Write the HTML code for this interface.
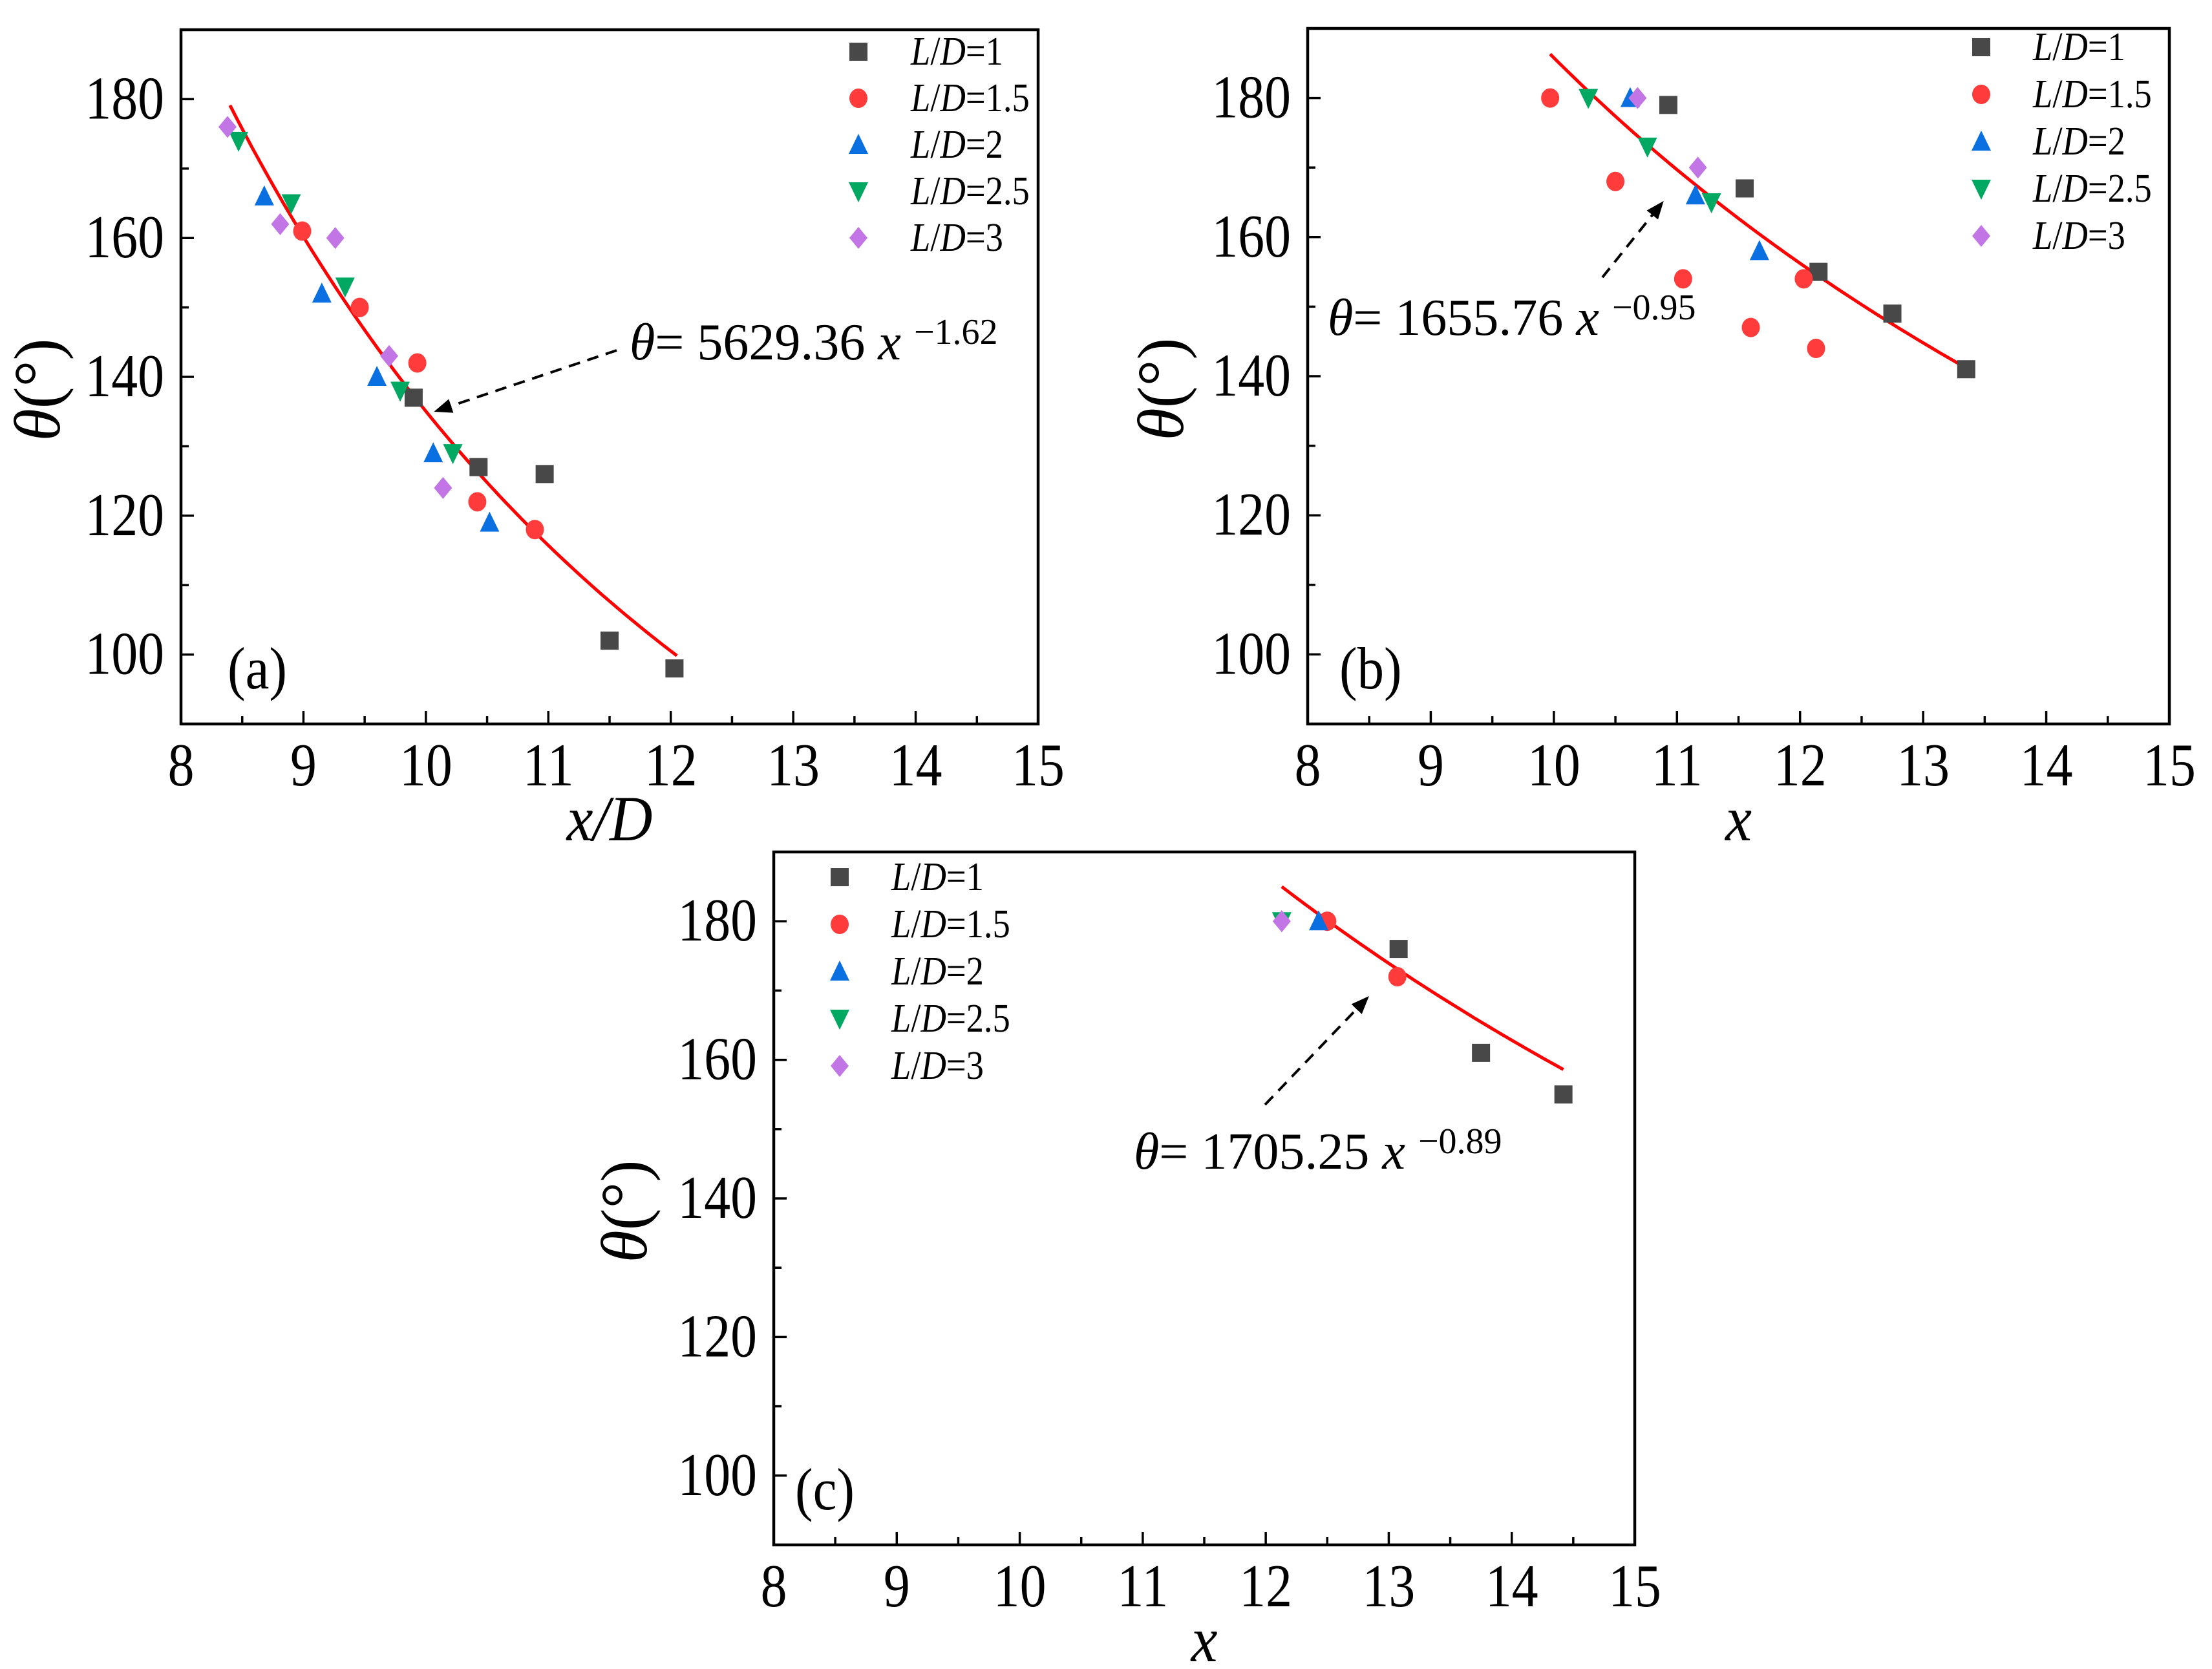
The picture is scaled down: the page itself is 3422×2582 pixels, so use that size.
<!DOCTYPE html>
<html><head><meta charset="utf-8"><style>
html,body{margin:0;padding:0;background:#fff}
svg{display:block;font-family:"Liberation Serif",serif}
</style></head><body>
<svg id="fig" width="3422" height="2582" viewBox="0 0 3422 2582" xmlns="http://www.w3.org/2000/svg">
<defs><marker id="arr" viewBox="0 0 10 10" refX="9" refY="5" markerWidth="7" markerHeight="7" orient="auto"><path d="M0,1 L10,5 L0,9 z" fill="#000"/></marker></defs>
</svg>
<script>
const seriesNames = ["L/D=1","L/D=1.5","L/D=2","L/D=2.5","L/D=3"];
const xTicks = [8,9,10,11,12,13,14,15];
const yTicks = [100,120,140,160,180];
// Panel (a)
const aX1=[9.9,10.43,10.97,11.5,12.03], aY1=[137,127,126,102,98];
const aX15=[8.99,9.46,9.93,10.42,10.89], aY15=[161,150,142,122,118];
const aX2=[8.68,9.15,9.6,10.06,10.52], aY2=[166,152,140,129,119];
const aX25=[8.47,8.9,9.34,9.79,10.22], aY25=[174,165,153,138,129];
const aX3=[8.38,8.81,9.26,9.7,10.14], aY3=[176,162,160,143,124];
const aFit=[5629.36,-1.62,8.4,12.05];
// Panel (b)
const bX1=[10.93,11.55,12.15,12.75,13.35], bY1=[179,167,155,149,141];
const bX15=[9.97,10.5,11.05,11.6,12.03,12.13], bY15=[180,168,154,147,154,144];
const bX2=[10.62,11.15,11.67], bY2=[180,166,158];
const bX25=[10.28,10.76,11.28], bY25=[180,173,165];
const bX3=[10.68,11.17], bY3=[180,170];
const bFit=[1655.76,-0.95,9.97,13.37];
// Panel (c)
const cX1=[13.08,13.75,14.42], cY1=[176,161,155];
const cX15=[12.5,13.07], cY15=[180,172];
const cX2=[12.43], cY2=[180];
const cX25=[12.13], cY25=[180];
const cX3=[12.13], cY3=[180];
const cFit=[1705.25,-0.89,12.13,14.42];

const NS="http://www.w3.org/2000/svg";
const svg=document.getElementById('fig');
const colors=["#484848","#ff3b3b","#0a6fe0","#00a862","#c276e6"];
function mk(tag,attrs,parent){const e=document.createElementNS(NS,tag);for(const k in attrs)e.setAttribute(k,attrs[k]);(parent||svg).appendChild(e);return e;}
function ctext(x,y,size,anchor,g,sx){return mk('text',{x:0,y:0,'font-size':size,'text-anchor':anchor,transform:`translate(${x},${y}) scale(${sx||0.87},1)`},g);}
function marker(i,cx,cy,g){
  const s=14;let e;
  if(i===0)e=mk('rect',{x:cx-s,y:cy-s,width:2*s,height:2*s,fill:colors[0]},g);
  else if(i===1)e=mk('ellipse',{cx:cx,cy:cy,rx:s,ry:s+1,fill:colors[1]},g);
  else if(i===2)e=mk('polygon',{points:`${cx},${cy-s-3} ${cx+s+1},${cy+s} ${cx-s-1},${cy+s}`,fill:colors[2]},g);
  else if(i===3)e=mk('polygon',{points:`${cx-s-1},${cy-s} ${cx+s+1},${cy-s} ${cx},${cy+s+3}`,fill:colors[3]},g);
  else e=mk('polygon',{points:`${cx},${cy-s-3} ${cx+s},${cy} ${cx},${cy+s+3} ${cx-s},${cy}`,fill:colors[4]},g);
  return e;
}
function panel(c){
  const g=mk('g',{});
  
  
  const sx=v=>c.L+(v-8)/7*(c.R-c.L);
  const sy=v=>c.B-(v-90)/100*(c.B-c.T);
  const fr=mk('rect',{x:c.L,y:c.T,width:c.R-c.L,height:c.B-c.T,fill:'none',stroke:'#000','stroke-width':4.5},g);
  
  
  for(let v=8;v<=15;v+=0.5){const x=sx(v);const len=Number.isInteger(v)?20:12;
    mk('line',{x1:x,y1:c.B,x2:x,y2:c.B-len,stroke:'#000','stroke-width':3.5},g);}
  for(let v=100;v<=180;v+=10){const y=sy(v);const len=v%20===0?20:12;
    mk('line',{x1:c.L,y1:y,x2:c.L+len,y2:y,stroke:'#000','stroke-width':3.5},g);}
  xTicks.forEach(v=>{const t=ctext(sx(v),c.B+95,94,'middle',g);t.textContent=v;
    });
  yTicks.forEach(v=>{const t=ctext(c.L-26,sy(v)+30,94,'end',g);t.textContent=v;
    });
  const yt=mk('text',{x:0,y:0,'text-anchor':'middle','font-size':102,transform:`translate(${c.ytx},${(c.T+c.B)/2+20}) rotate(-90)`},g);
  yt.innerHTML='<tspan font-style="italic">θ</tspan>(°)';
  
  const xt=ctext((c.L+c.R)/2,c.B+180,100,'middle',g,0.92);
  xt.setAttribute('font-style','italic');
  xt.textContent=c.xtitle;
  
  // fit curve
  const [A,p,x0,x1]=c.fit;let d='';
  for(let k=0;k<=60;k++){const x=x0+(x1-x0)*k/60;d+=(k?'L':'M')+sx(x).toFixed(1)+','+sy(A*Math.pow(x,p)).toFixed(1);}
  const fc=mk('path',{d:d,fill:'none',stroke:'#f00','stroke-width':5},g);
  
  c.series.forEach((s,i)=>{s[0].forEach((xv,j)=>{const m=marker(i,sx(xv),sy(s[1][j]),g);
    
    });});
  // legend
  seriesNames.forEach((n,i)=>{const y=c.legY+i*c.legDy;
    const m=marker(i,c.legMx,y,g);
    const t=ctext(c.legTx,y+20,62,'start',g,0.88);
    t.innerHTML='<tspan font-style="italic">L</tspan>/<tspan font-style="italic">D</tspan>='+n.split('=')[1];
    });
  // annotation
  const ar=mk('line',{x1:c.arr[0],y1:c.arr[1],x2:c.arr[2],y2:c.arr[3],stroke:'#000','stroke-width':4,'stroke-dasharray':'18,12','marker-end':'url(#arr)'},g);
  
  const at=mk('text',{x:c.ann[0],y:c.ann[1],'font-size':80},g);
  at.innerHTML='<tspan font-style="italic">θ</tspan>= '+c.fit[0].toFixed(2)+' <tspan font-style="italic">x</tspan> <tspan font-size="56" dy="-24">−'+Math.abs(c.fit[1]).toFixed(2)+'</tspan>';
  
  const pl=ctext(c.lab[0],c.lab[1],92,'start',g,0.9);pl.textContent='('+c.id+')';
  
}
panel({id:'a',L:280,R:1606,T:46,B:1120,ytx:92,xtitle:'x/D',fit:aFit,
  series:[[aX1,aY1],[aX15,aY15],[aX2,aY2],[aX25,aY25],[aX3,aY3]],
  legMx:1328,legTx:1409,legY:80,legDy:72,arr:[954,542,674,636],ann:[974,556],lab:[352,1065]});
panel({id:'b',L:2023,R:3356,T:44,B:1120,ytx:1830,xtitle:'x',fit:bFit,
  series:[[bX1,bY1],[bX15,bY15],[bX2,bY2],[bX25,bY25],[bX3,bY3]],
  legMx:3065,legTx:3145,legY:73,legDy:73,arr:[2479,429,2572,313],ann:[2054,518],lab:[2072,1065]});
panel({id:'c',L:1197,R:2529,T:1318,B:2390,ytx:1000,xtitle:'x',fit:cFit,
  series:[[cX1,cY1],[cX15,cY15],[cX2,cY2],[cX25,cY25],[cX3,cY3]],
  legMx:1299,legTx:1379,legY:1357,legDy:73,arr:[1957,1709,2116,1543],ann:[1754,1808],lab:[1230,2335]});
</script>
</body></html>
